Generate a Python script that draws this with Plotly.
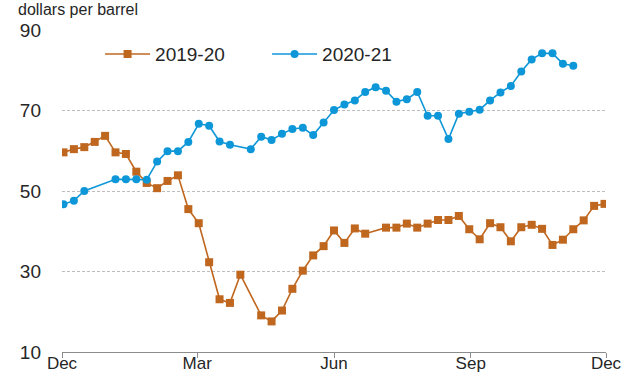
import datetime as dt
import plotly.graph_objects as go

# Weekly observations, first week = early December; None = no report that week
start = dt.date(2019, 12, 2)
n_weeks = 53
week_dates = [(start + dt.timedelta(days=7 * i)).isoformat() for i in range(n_weeks)]

prices_2019_20 = [
    59.6, 60.4, 60.9, 62.2, 63.7, 59.6, 59.2, 54.8, 52.0, 50.7,
    52.5, 53.9, 45.5, 42.0, 32.3, 23.1, 22.2, 29.2, None, 19.1,
    17.6, 20.3, 25.7, 30.2, 34.0, 36.3, 40.2, 37.1, 40.7, 39.4,
    None, 40.9, 40.9, 41.9, 40.9, 41.9, 42.8, 42.8, 43.8, 40.5,
    38.0, 42.0, 41.0, 37.5, 41.0, 41.6, 40.6, 36.6, 37.9, 40.5,
    42.7, 46.3, 46.8,
]

prices_2020_21 = [
    46.7, 47.6, 50.0, None, None, 52.9, 52.9, 52.9, 52.8, 57.3,
    59.9, 59.9, 62.2, 66.7, 66.2, 62.3, 61.5, None, 60.4, 63.5,
    62.7, 64.2, 65.4, 65.7, 63.9, 67.0, 70.1, 71.5, 72.5, 74.6,
    75.8, 74.9, 72.2, 72.8, 74.6, 68.7, 68.7, 62.9, 69.2, 69.7,
    70.2, 72.5, 74.5, 76.1, 79.7, 82.7, 84.2, 84.2, 81.6, 81.1,
]

tick_dates = ["2019-12-01", "2020-03-01", "2020-06-01", "2020-09-01", "2020-12-01"]
tick_labels = ["Dec", "Mar", "Jun", "Sep", "Dec"]
y_ticks = [10, 30, 50, 70, 90]

ORANGE = "#C0671F"
BLUE = "#0E97D8"
FONT = "Liberation Sans, Arial, sans-serif"
TXT = "#262626"


def present(values):
    xs = [d for d, v in zip(week_dates, values) if v is not None]
    ys = [v for v in values if v is not None]
    return xs, ys


fig = go.Figure()
x1, y1 = present(prices_2019_20)
fig.add_trace(go.Scatter(
    x=x1, y=y1, name="2019-20", mode="lines+markers",
    line=dict(color=ORANGE, width=1.6),
    marker=dict(symbol="square", size=8, color=ORANGE),
))
x2, y2 = present(prices_2020_21)
fig.add_trace(go.Scatter(
    x=x2, y=y2, name="2020-21", mode="lines+markers",
    line=dict(color=BLUE, width=1.6),
    marker=dict(symbol="circle", size=8, color=BLUE),
))

fig.update_layout(
    width=627, height=376,
    margin=dict(l=62, r=21, t=30, b=23.5, pad=0, autoexpand=False),
    paper_bgcolor="white", plot_bgcolor="white",
    font=dict(family=FONT, size=19, color=TXT),
    showlegend=True,
    legend=dict(
        orientation="h", x=0.07, y=0.925, xanchor="left", yanchor="middle",
        font=dict(size=19, color=TXT), bgcolor="rgba(0,0,0,0)",
        itemwidth=45, entrywidth=107, tracegroupgap=0,
    ),
    annotations=[dict(
        text="dollars per barrel", xref="paper", yref="paper",
        x=-0.083, y=1.093, xanchor="left", yanchor="top",
        showarrow=False, borderpad=0, font=dict(size=16, color=TXT),
    )],
)

fig.update_xaxes(
    type="date", range=["2019-12-01", "2020-12-01"], automargin=False,
    tickmode="array", tickvals=tick_dates, ticktext=tick_labels,
    tickfont=dict(size=17),
    showgrid=False, showline=True, linecolor="#8c8c8c", linewidth=1.2,
    ticks="outside", ticklen=5, tickcolor="#8c8c8c", tickwidth=1.2,
    zeroline=False, ticklabelstandoff=-10,
)
fig.update_yaxes(
    range=[10, 90], tickmode="array", tickvals=y_ticks, automargin=False,
    showgrid=True, gridcolor="#bdbdbd", gridwidth=1, griddash="3px,2px",
    showline=False, zeroline=False, ticks="", ticklabelstandoff=20,
)

fig.write_html("out.html")
